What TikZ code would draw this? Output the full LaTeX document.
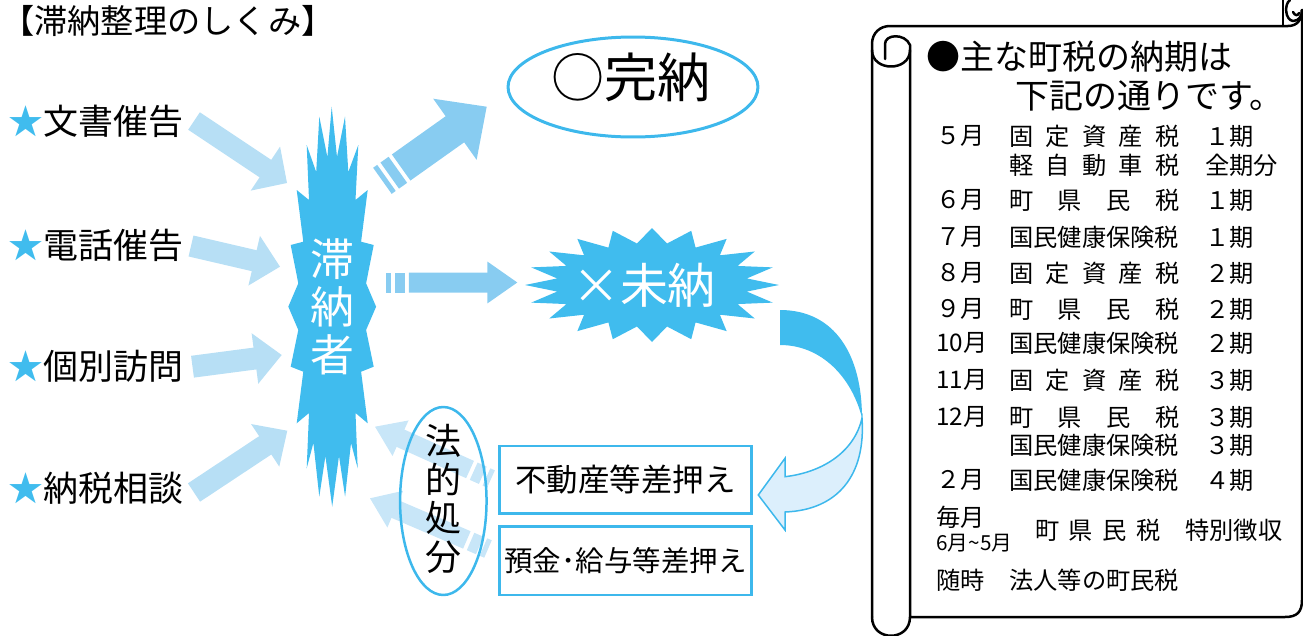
\documentclass[tikz,border=0pt]{standalone}
\usepackage{fontspec}
\setmainfont{Noto Sans CJK JP}
\usetikzlibrary{calc,shapes.geometric}
\definecolor{burst}{RGB}{64,188,238}
\definecolor{inarr}{RGB}{183,223,245}
\definecolor{outarr}{RGB}{136,204,241}
\definecolor{retarr}{RGB}{200,230,248}
\definecolor{curvlight}{RGB}{220,239,252}
\definecolor{edgeblue}{RGB}{61,184,236}
% fat arrow: #1 colour, #2 tail, #3 tip, #4 shaft width, #5 half head width, #6 head length
\newcommand\fatarrow[6]{%
  \path ($(#3)!#6!(#2)$) coordinate (fab);
  \draw[#1,line width=#4] (#2) -- ($(fab)!0.3!(#3)$);
  \fill[#1] (#3) -- ($(fab)!#5!90:(#3)$) -- ($(fab)!#5!-90:(#3)$) -- cycle;
}
% fat arrow with two stripes at its tail
\newcommand\fatarrowS[6]{%
  \path ($(#2)!0.10cm!(#3)$) coordinate (st1) ($(#2)!0.18cm!(#3)$) coordinate (st2)
        ($(#2)!0.38cm!(#3)$) coordinate (st3) ($(#2)!0.46cm!(#3)$) coordinate (st4);
  \draw[#1,line width=#4] (#2) -- (st1) (st2) -- (st3);
  \fatarrow{#1}{st4}{#3}{#4}{#5}{#6}
}
\newcommand\taxrow[4]{%
  \node[tx] (m#1) at (936,#1) {#2};
  \node[tx] (i#1) at (1009,#1) {#3};
  \node[tx] (p#1) at (1205,#1) {#4};}
\newcommand\spr[2]{\makebox[#1][s]{#2}}
\begin{document}
\begin{tikzpicture}[x=0.02cm,y=-0.02cm,
  lbl/.style={anchor=west,inner sep=0pt,font=\fontsize{19.9pt}{20pt}\selectfont},
  tx/.style={anchor=west,inner sep=0pt,font=\fontsize{13.8pt}{14pt}\selectfont},
  scr/.style={line width=0.05cm,line join=round,line cap=round},
  boxst/.style={draw=edgeblue,line width=0.05cm,minimum width=5.05cm,inner sep=0pt}]
\useasboundingbox (0,0) rectangle (1303,636);

% title
\node[lbl,font=\fontsize{18.9pt}{20pt}\selectfont] (title) at (1,21) {【滞納整理のしくみ】};

% input labels
\node[lbl] (l1) at (8,121.7) {\textcolor{burst}{★}文書催告};
\node[lbl] (l2) at (8,245) {\textcolor{burst}{★}電話催告};
\node[lbl] (l3) at (8,366.7) {\textcolor{burst}{★}個別訪問};
\node[lbl] (l4) at (8,488.3) {\textcolor{burst}{★}納税相談};

% input arrows
\coordinate (a1t) at (194,121);   \coordinate (a1h) at (287,183);
\coordinate (a2t) at (191,246);   \coordinate (a2h) at (280,266.7);
\coordinate (a3t) at (192.5,366.7); \coordinate (a3h) at (281.7,355);
\coordinate (a4t) at (194,492.5); \coordinate (a4h) at (287.3,430.7);
\fatarrow{inarr}{a1t}{a1h}{0.42cm}{0.53cm}{0.52cm}
\fatarrow{inarr}{a2t}{a2h}{0.43cm}{0.51cm}{0.53cm}
\fatarrow{inarr}{a3t}{a3h}{0.44cm}{0.51cm}{0.54cm}
\fatarrow{inarr}{a4t}{a4h}{0.44cm}{0.51cm}{0.53cm}

% burst of the delinquent payer
\fill[burst] (331.7,106.7) -- (337,157) -- (345,116.7) -- (348.3,172) -- (358.3,145) -- (355.5,200) -- (367.7,190)
  -- (361.1,241.7) -- (373.7,245) -- (366.1,283.3) -- (376.1,306.7) -- (366.1,330) -- (373.7,366.7) -- (361.1,371.7) -- (367.7,423.3)
  -- (355.5,413) -- (357.7,468.3) -- (351,443) -- (345.1,496.7) -- (339,456) -- (332.2,506.7)
  -- (325.4,456) -- (319.3,496.7) -- (313.4,443) -- (306.7,468.3) -- (309,413) -- (296.7,423.3)
  -- (303.3,371.7) -- (290.7,366.7) -- (298.3,330) -- (288.3,306.7) -- (298.3,283.3) -- (290.7,245) -- (303.3,241.7) -- (296.7,190)
  -- (309,200) -- (306.7,145) -- (316.2,172) -- (319.3,116.7) -- (327.4,157) -- cycle;
\node[text=white,align=center,inner sep=0pt,font=\fontsize{25pt}{27.3pt}\selectfont] (taino) at (332,307) {滞\\納\\者};

% outgoing arrows
\coordinate (b1t) at (386,282.5); \coordinate (b1h) at (517.3,282.5);
\coordinate (b2t) at (382.4,180.8); \coordinate (b2h) at (486.7,106.7);
\fatarrowS{outarr}{b1t}{b1h}{0.40cm}{0.42cm}{0.60cm}
\fatarrowS{outarr}{b2t}{b2h}{0.64cm}{0.75cm}{0.78cm}

% paid in full
\node[ellipse,draw=edgeblue,line width=0.06cm,minimum width=5cm,minimum height=2cm,inner sep=0pt] (kan) at (633,87) {};
\node[inner sep=0pt,font=\fontsize{30.2pt}{31pt}\selectfont] (kant) at (631,77) {○完納};

% unpaid burst
\fill[burst] (779,285) \foreach \i in {0,...,19} {
   -- ({652+96*cos(\i*18+9)},{285-42*sin(\i*18+9)}) -- ({652+127*cos(\i*18+18)},{285-57*sin(\i*18+18)}) } -- cycle;
\node[text=white,inner sep=0pt,font=\fontsize{27.3pt}{28pt}\selectfont] (mino) at (644,285) {×未納};

% curved arrow
\fill[burst] (780,310) .. controls (835,310) and (862,355) .. (862,418)
   .. controls (852,378) and (822,345) .. (780,345) -- cycle;
\filldraw[fill=curvlight,draw=edgeblue,line width=0.03cm,line join=miter]
   (862,418) .. controls (866,475) and (838,510) .. (785,512) -- (785,530) -- (758.3,495) -- (785,458.3) -- (785,476.7)
   .. controls (825,472) and (855,450) .. (862,418) -- cycle;

% seizure boxes
\node[boxst,minimum height=1.35cm,font=\fontsize{17.9pt}{18pt}\selectfont] (box1) at (625.5,479.7) {不動産等差押え};
\node[boxst,minimum height=1.37cm,font=\fontsize{16.2pt}{17pt}\selectfont] (box2) at (625.5,560.8) {預金･給与等差押え};

% return arrows
\coordinate (r1t) at (491,479); \coordinate (r1h) at (375,426.7);
\coordinate (r2t) at (488,549); \coordinate (r2h) at (370,498.3);
\fatarrowS{retarr}{r1t}{r1h}{0.38cm}{0.39cm}{0.56cm}
\fatarrowS{retarr}{r2t}{r2h}{0.38cm}{0.40cm}{0.55cm}

% legal measures
\node[ellipse,draw=edgeblue,line width=0.05cm,minimum width=1.73cm,minimum height=3.76cm,inner sep=0pt] (hou) at (443.3,501) {};
\node[align=center,inner sep=0pt,font=\fontsize{20.5pt}{22pt}\selectfont] (hout) at (443.3,499) {法\\的\\処\\分};

% scroll
\draw[scr] (872,617) -- (872,44) .. controls (872,33) and (880,26) .. (890,26) -- (1288,26)
   .. controls (1297,26) and (1302,20) .. (1302,10);
\draw[scr] (872,617) .. controls (872,642) and (910,642) .. (910,617);
\draw[scr] (872,50) .. controls (872,72) and (910,72) .. (910,50);
\draw[scr] (885,59) -- (885,44) .. controls (885,34) and (905,33) .. (910,45) -- (910,617)
   -- (1285,617) .. controls (1297,617) and (1302,612) .. (1302,600) -- (1302,10);
\draw[scr] (1283,0) -- (1283,26);
\draw[scr] (1290,0) .. controls (1284,4) and (1285,20) .. (1293,21) .. controls (1299,21) and (1302,16) .. (1302,10);
\draw[scr] (1293,12) .. controls (1295,16) and (1298,16) .. (1299,13);

\node[lbl,font=\fontsize{19.35pt}{20pt}\selectfont] (h1) at (926,57) {●主な町税の納期は};
\node[lbl,font=\fontsize{19.35pt}{20pt}\selectfont] (h2) at (1015,96) {下記の通りです。};

\taxrow{136}{５月}{\spr{3.4cm}{固 定 資 産 税}}{１期}
\node[tx] (i165) at (1009,165) {\spr{3.4cm}{軽 自 動 車 税}};
\node[tx] (p165) at (1205,165) {全期分};
\taxrow{200}{６月}{\spr{3.4cm}{町 県 民 税}}{１期}
\taxrow{237}{７月}{国民健康保険税}{１期}
\taxrow{273}{８月}{\spr{3.4cm}{固 定 資 産 税}}{２期}
\taxrow{309}{９月}{\spr{3.4cm}{町 県 民 税}}{２期}
\taxrow{343}{10月}{国民健康保険税}{２期}
\taxrow{380}{11月}{\spr{3.4cm}{固 定 資 産 税}}{３期}
\taxrow{417}{12月}{\spr{3.4cm}{町 県 民 税}}{３期}
\node[tx] (i445) at (1009,445) {国民健康保険税};
\node[tx] (p445) at (1205,445) {３期};
\taxrow{480}{２月}{国民健康保険税}{４期}
\node[tx] (m517) at (936,517) {毎月};
\node[tx,font=\fontsize{11.8pt}{12pt}\selectfont] (m543) at (936,543) {6月\textasciitilde5月};
\node[tx] (i530) at (1035,530) {\spr{2.5cm}{町 県 民 税}};
\node[tx] (p530) at (1185,530) {特別徴収};
\node[tx] (m580) at (936,580) {随時};
\node[tx] (i580) at (1009,580) {法人等の町民税};
\end{tikzpicture}
\end{document}
